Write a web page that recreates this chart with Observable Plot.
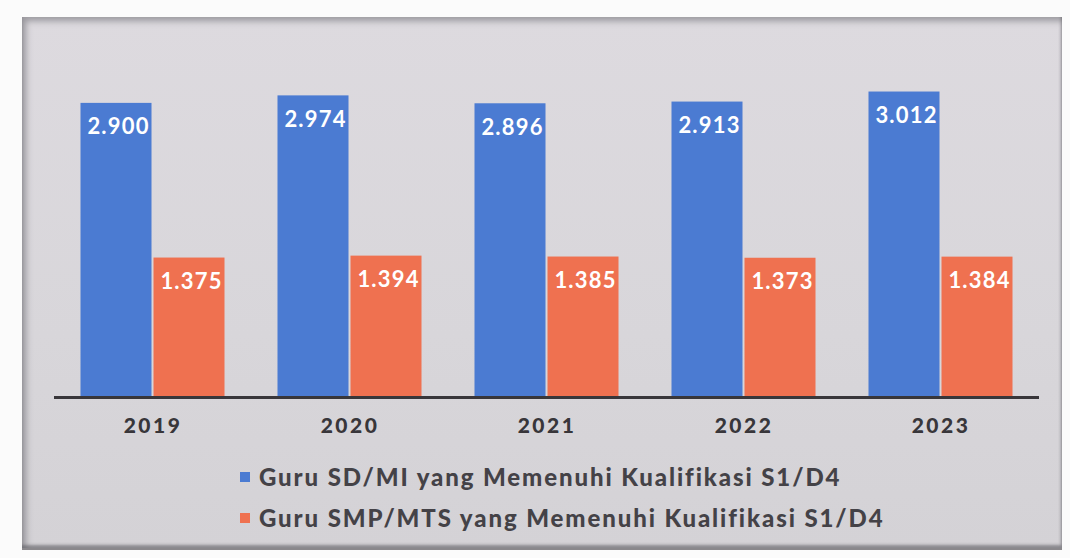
<!DOCTYPE html>
<html>
<head>
<meta charset="utf-8">
<script src="https://cdn.jsdelivr.net/npm/d3@7"></script>
<script src="https://cdn.jsdelivr.net/npm/@observablehq/plot@0.6"></script>
<style>
  html, body { margin: 0; padding: 0; background: #ffffff; }
  #page { position: relative; width: 1070px; height: 558px; overflow: hidden; background: #fbfbfb; }
  #frame {
    position: absolute; left: 22px; top: 17px; width: 1040px; height: 531px;
    background: linear-gradient(180deg, #dddadf 0%, #d8d6da 60%, #d4d2d6 100%);
    box-shadow: inset 4px 4px 6px rgba(90,90,95,0.5), inset -1px -3px 3px rgba(70,70,75,0.5);
    border-bottom: 2px solid #8a888c;
  }
  #chart { position: absolute; left: 0; top: 0; }
  #chart g[aria-label="fx-axis tick label"] text { letter-spacing: 2.5px; }
  #chart g[aria-label="text"] text { letter-spacing: 1.2px; }
  .legend { position: absolute; left: 240px; font-family: Lato, "Open Sans", sans-serif; font-weight: 900;
            font-size: 24px; color: #444247; display: flex; align-items: center; letter-spacing: 1.9px; }
  .legend .sw { width: 10px; height: 10px; margin-right: 9px; }
</style>
</head>
<body>
<div id="page">
  <div id="frame"></div>
  <div id="chart"></div>
  <div class="legend" style="top:462px"><span class="sw" id="sw0"></span><span id="lg0"></span></div>
  <div class="legend" style="top:503px"><span class="sw" id="sw1"></span><span id="lg1"></span></div>
</div>
<script>
const years = ["2019", "2020", "2021", "2022", "2023"];
const seriesNames = [
  "Guru SD/MI yang Memenuhi Kualifikasi S1/D4",
  "Guru SMP/MTS yang Memenuhi Kualifikasi S1/D4"
];
const sdmi = [2900, 2974, 2896, 2913, 3012];
const smp = [1375, 1394, 1385, 1373, 1384];
const colors = ["#4b7bd2", "#ef7150"];

const data = [];
years.forEach((y, i) => {
  data.push({year: y, series: seriesNames[0], value: sdmi[i]});
  data.push({year: y, series: seriesNames[1], value: smp[i]});
});
const fmt = v => d3.format(",")(v).replace(/,/g, ".");

const chart = Plot.plot({
  width: 1070,
  height: 440,
  marginTop: 40,
  marginBottom: 43,
  marginLeft: 53.5,
  marginRight: 31.5,
  style: {background: "transparent", fontFamily: "Lato, 'Open Sans', sans-serif"},
  fx: {domain: years, padding: 0, label: null, axis: null},
  x: {domain: seriesNames, paddingInner: 0.03, paddingOuter: 0.36, axis: null},
  y: {domain: [0, 3520], axis: null},
  color: {domain: seriesNames, range: colors},
  marks: [
    Plot.barY(data, {fx: "year", x: "series", y: "value", fill: "series"}),
    Plot.text(data, {fx: "year", x: "series", y: "value", text: d => fmt(d.value),
      dy: 24, dx: 2, fill: "white", fontSize: 22, fontWeight: 700}),
    Plot.ruleY([0], {stroke: "#38363a", strokeWidth: 3}),
    Plot.axisFx({anchor: "bottom", tickSize: 0, tickPadding: 21, fontSize: 21, fontWeight: 900,
      fill: "#38363a", label: null})
  ]
});
document.getElementById("chart").appendChild(chart);
seriesNames.forEach((n, i) => {
  document.getElementById("lg" + i).textContent = n;
  document.getElementById("sw" + i).style.background = colors[i];
});
</script>
</body>
</html>
